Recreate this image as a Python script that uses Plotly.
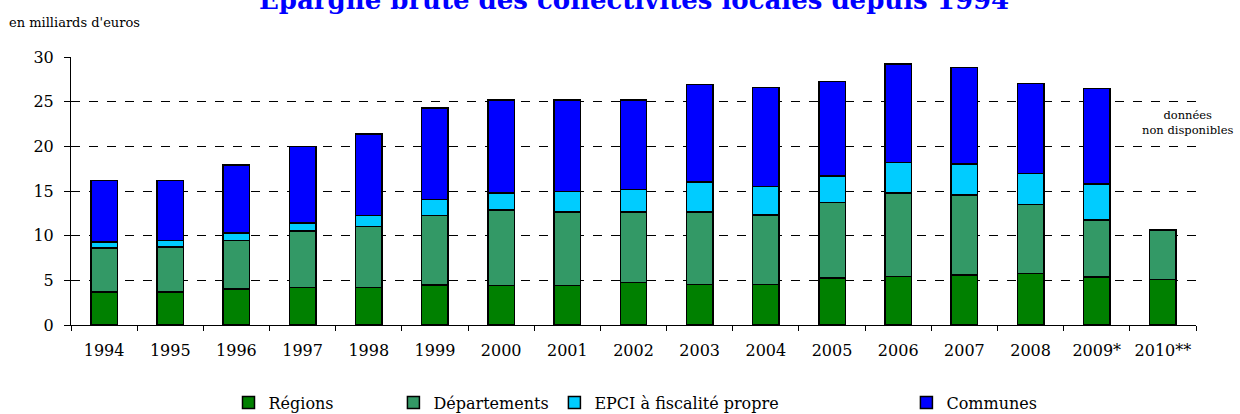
import plotly.graph_objects as go

years = ["1994", "1995", "1996", "1997", "1998", "1999", "2000", "2001", "2002",
         "2003", "2004", "2005", "2006", "2007", "2008", "2009*", "2010**"]

regions = [3.7, 3.7, 4.05, 4.2, 4.2, 4.5, 4.4, 4.4, 4.75, 4.55, 4.55, 5.25, 5.45, 5.6, 5.75, 5.4, 5.1]
departements = [4.9, 5.05, 5.4, 6.35, 6.8, 7.75, 8.45, 8.25, 7.9, 8.1, 7.75, 8.45, 9.3, 8.95, 7.75, 6.35, 5.55]
epci = [0.7, 0.7, 0.85, 0.85, 1.25, 1.8, 1.9, 2.3, 2.5, 3.35, 3.2, 3.0, 3.45, 3.5, 3.45, 4.05, None]
communes = [6.9, 6.7, 7.6, 8.6, 9.15, 10.25, 10.45, 10.25, 10.05, 10.95, 11.1, 10.55, 11.0, 10.75, 10.1, 10.7, None]

series = [
    ("Régions", regions, "#008000", "legend", 0.1400),
    ("Départements", departements, "#339966", "legend2", 0.2866),
    ("EPCI à fiscalité propre", epci, "#00CCFF", "legend3", 0.4297),
    ("Communes", communes, "#0000FF", "legend4", 0.7426),
]

serif = "DejaVu Serif"

fig = go.Figure()
legend_layouts = {}
for name, vals, col, leg, lx in series:
    fig.add_trace(go.Bar(
        x=years, y=vals, name=name, legend=leg,
        marker=dict(color=col, line=dict(color="black", width=1.5)),
    ))
    legend_layouts[leg] = dict(
        orientation="h", x=lx, xanchor="left", y=-0.29, yanchor="middle",
        font=dict(family=serif, size=16, color="black"),
        bgcolor="rgba(0,0,0,0)", itemwidth=30,
    )

fig.update_layout(
    width=1240, height=414,
    margin=dict(l=71, r=44, t=57, b=89, autoexpand=False),
    barmode="stack", bargap=0.6,
    plot_bgcolor="white", paper_bgcolor="white",
    showlegend=True,
    xaxis=dict(
        type="category", showline=True, linecolor="black", linewidth=1,
        ticks="outside", tickson="boundaries", ticklen=5, tickcolor="black",
        tickfont=dict(family=serif, size=16, color="black"),
        showgrid=False, ticklabelstandoff=11,
    ),
    yaxis=dict(
        range=[0, 30], tickvals=[0, 5, 10, 15, 20, 25, 30],
        showline=True, linecolor="black", linewidth=1,
        ticks="outside", ticklen=6, tickcolor="black",
        tickfont=dict(family=serif, size=16, color="black"),
        showgrid=True, gridcolor="black", griddash="dash", gridwidth=1,
        zeroline=False, ticklabelstandoff=7,
    ),
    **legend_layouts,
)

fig.add_annotation(
    text="<b>Epargne brute des collectivités locales depuis 1994</b>",
    xref="paper", yref="paper", x=0.5, y=1.149, xanchor="center", yanchor="bottom",
    showarrow=False, font=dict(family=serif, size=26, color="#0000FF"),
)
fig.add_annotation(
    text="en milliards d'euros",
    xref="paper", yref="paper", x=-0.057, y=1.13, xanchor="left", yanchor="middle",
    showarrow=False, font=dict(family=serif, size=13, color="black"),
)
fig.add_annotation(
    text="données<br>non disponibles",
    xref="paper", yref="paper", x=0.993, y=0.757, xanchor="center", yanchor="middle",
    showarrow=False, align="center",
    font=dict(family=serif, size=11.5, color="black"),
)

fig.write_html("out.html")
